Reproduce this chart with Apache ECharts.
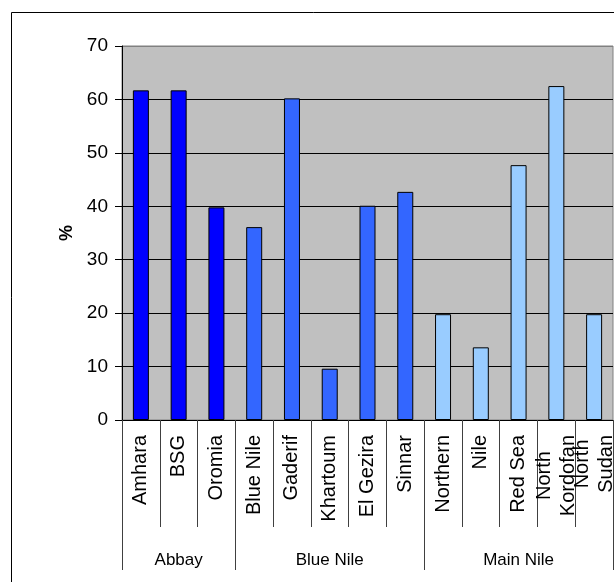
<!DOCTYPE html>
<html>
<head>
<meta charset="utf-8">
<script src="https://cdn.jsdelivr.net/npm/echarts@6/dist/echarts.min.js"></script>
<style>
  html, body { margin: 0; padding: 0; background: #ffffff; }
  #chart { width: 614px; height: 582px; }
</style>
</head>
<body>
<div id="chart"></div>
<script>
// Regions (bottom axis), grouped by basin
const regions = ['Amhara', 'BSG', 'Oromia', 'Blue Nile', 'Gaderif', 'Khartoum', 'El Gezira', 'Sinnar',
                 'Northern', 'Nile', 'Red Sea', 'North\nKordofan', 'North\nSudan'];
const basins = ['Abbay', 'Blue Nile', 'Main Nile'];
const basinOfRegion = [0, 0, 0, 1, 1, 1, 1, 1, 2, 2, 2, 2, 2];
const basinColors = ['#0000FF', '#3366FF', '#99CCFF'];

// Percentage per region
const percent = [61.7, 61.7, 39.8, 36.1, 60.2, 9.6, 40.1, 42.7, 19.8, 13.6, 47.7, 62.5, 19.8];

// Value axis ticks
const yTicks = { min: 0, max: 70, step: 10 };

// first index of each basin, and the index at the middle of each basin
const basinStart = basins.map(function (b, k) { return basinOfRegion.indexOf(k); });
const basinMiddle = basins.map(function (b, k) {
  const first = basinOfRegion.indexOf(k);
  const last = basinOfRegion.lastIndexOf(k);
  return Math.floor((first + last) / 2);
});

const FONT = '"Liberation Sans", Arial, sans-serif';

// gridlines: black, except the top one which sits on the grey plot border
const gridLineColors = [];
for (let v = yTicks.min; v <= yTicks.max; v += yTicks.step) {
  gridLineColors.push(v === yTicks.max ? '#808080' : '#000000');
}

const chart = echarts.init(document.getElementById('chart'), null, { renderer: 'canvas' });

chart.setOption({
  animation: false,
  backgroundColor: '#ffffff',
  textStyle: { fontFamily: FONT },
  graphic: [{
    type: 'rect',
    z: -10,
    shape: { x: 11.5, y: 12.5, width: 700, height: 700 },
    style: { fill: null, stroke: '#000000', lineWidth: 1 }
  }],
  grid: {
    left: 122, top: 46, right: 1, bottom: 162,
    show: true,
    backgroundColor: '#C0C0C0',
    borderColor: '#808080',
    borderWidth: 1,
    outerBoundsMode: 'none'
  },
  xAxis: [{
    type: 'category',
    position: 'bottom',
    data: regions,
    axisLine: { show: true, lineStyle: { color: '#000000', width: 1 } },
    axisTick: { show: true, length: 107, interval: 0, lineStyle: { color: '#404040', width: 1 } },
    axisLabel: {
      interval: 0,
      rotate: 90,
      margin: 15,
      color: '#000000',
      fontFamily: FONT,
      fontSize: 20,
      formatter: function (v) {
        return v.split('\n').map(function (line) { return '{c|' + line + '}'; }).join('\n');
      },
      rich: { c: { align: 'center', fontSize: 20, lineHeight: 24, fontFamily: FONT, color: '#000000' } }
    },
    splitLine: { show: false }
  }, {
    type: 'category',
    position: 'bottom',
    data: regions.map(function (r, i) { return basins[basinOfRegion[i]]; }),
    axisLine: { show: false },
    axisTick: {
      show: true,
      length: 150,
      interval: function (i) { return basinStart.indexOf(i) >= 0; },
      lineStyle: { color: '#404040', width: 1 }
    },
    axisLabel: {
      interval: function (i) { return basinMiddle.indexOf(i) >= 0; },
      margin: 132,
      color: '#000000',
      fontFamily: FONT,
      fontSize: 17
    },
    splitLine: { show: false }
  }],
  yAxis: {
    type: 'value',
    min: yTicks.min,
    max: yTicks.max,
    interval: yTicks.step,
    name: '%',
    nameLocation: 'middle',
    nameGap: 46,
    nameRotate: 90,
    nameTextStyle: { fontFamily: FONT, fontSize: 18, fontWeight: 'bold', color: '#000000' },
    axisLine: { show: true, lineStyle: { color: '#000000', width: 1 } },
    axisTick: { show: true, inside: false, length: 7, lineStyle: { color: '#000000' } },
    axisLabel: { margin: 14, color: '#000000', fontFamily: FONT, fontSize: 19 },
    splitLine: { show: true, lineStyle: { color: gridLineColors, width: 1 } }
  },
  series: [{
    type: 'bar',
    xAxisIndex: 0,
    data: percent.map(function (v, i) {
      return {
        value: v,
        itemStyle: { color: basinColors[basinOfRegion[i]] }
      };
    }),
    barWidth: 16,
    itemStyle: { borderColor: '#000000', borderWidth: 1 }
  }]
});
</script>
</body>
</html>
